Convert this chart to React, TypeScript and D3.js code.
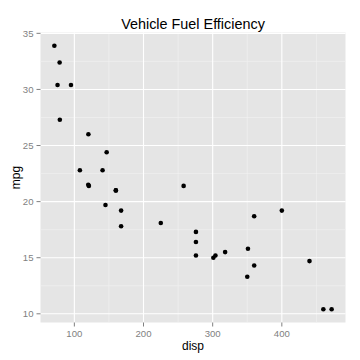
import React from "react";
import * as d3 from "d3";

const disp = [160, 160, 108, 258, 360, 225, 360, 146.7, 140.8, 167.6, 167.6, 275.8, 275.8, 275.8, 472, 460, 440, 78.7, 75.7, 71.1, 120.1, 318, 304, 350, 400, 79, 120.3, 95.1, 351, 145, 301, 121];
const mpg = [21.0, 21.0, 22.8, 21.4, 18.7, 18.1, 14.3, 24.4, 22.8, 19.2, 17.8, 16.4, 17.3, 15.2, 10.4, 10.4, 14.7, 32.4, 30.4, 33.9, 21.5, 15.5, 15.2, 13.3, 19.2, 27.3, 26.0, 30.4, 15.8, 19.7, 15.0, 21.4];
const xTicks = [100, 200, 300, 400];
const yTicks = [10, 15, 20, 25, 30, 35];
const xMinor = [50, 150, 250, 350, 450];
const yMinor = [12.5, 17.5, 22.5, 27.5, 32.5];

export default function App() {
  const W = 360, H = 360;
  const L = 40.5, R = 345.5, T = 32.5, B = 322.5;
  const [xmin, xmax] = d3.extent(disp) as [number, number];
  const [ymin, ymax] = d3.extent(mpg) as [number, number];
  const xe = (xmax - xmin) * 0.05, ye = (ymax - ymin) * 0.05;
  const x = d3.scaleLinear().domain([xmin - xe, xmax + xe]).range([L, R]);
  const y = d3.scaleLinear().domain([ymin - ye, ymax + ye]).range([B, T]);
  const tc = "#7f7f7f";
  return (
    <svg width={W} height={H} style={{ position: "absolute", left: 0, top: 0, fontFamily: "Liberation Sans, Arial, sans-serif" }}>
      <rect x={0} y={0} width={W} height={H} fill="#fff" />
      <rect x={L} y={T} width={R - L} height={B - T} fill="#e5e5e5" />
      {xMinor.filter(v => x(v) > L && x(v) < R).map(v => (
        <line key={"xm" + v} x1={x(v)} x2={x(v)} y1={T} y2={B} stroke="#f2f2f2" strokeWidth={0.6} />
      ))}
      {yMinor.map(v => (
        <line key={"ym" + v} x1={L} x2={R} y1={y(v)} y2={y(v)} stroke="#f2f2f2" strokeWidth={0.6} />
      ))}
      {xTicks.map(v => (
        <line key={"xg" + v} x1={x(v)} x2={x(v)} y1={T} y2={B} stroke="#fff" strokeWidth={1.1} />
      ))}
      {yTicks.map(v => (
        <line key={"yg" + v} x1={L} x2={R} y1={y(v)} y2={y(v)} stroke="#fff" strokeWidth={1.1} />
      ))}
      {disp.map((d, i) => (
        <circle key={i} cx={x(d)} cy={y(mpg[i])} r={2.3} fill="#000" />
      ))}
      {xTicks.map(v => (
        <g key={"xt" + v}>
          <line x1={x(v)} x2={x(v)} y1={B} y2={B + 4} stroke={tc} strokeWidth={1} />
          <text x={x(v)} y={B + 14} textAnchor="middle" fontSize={9.6} fill={tc}>{v}</text>
        </g>
      ))}
      {yTicks.map(v => (
        <g key={"yt" + v}>
          <line x1={L - 4} x2={L} y1={y(v)} y2={y(v)} stroke={tc} strokeWidth={1} />
          <text x={L - 7} y={y(v) + 3.4} textAnchor="end" fontSize={9.6} fill={tc}>{v}</text>
        </g>
      ))}
      <text x={(L + R) / 2} y={349.5} textAnchor="middle" fontSize={12} fill="#000">disp</text>
      <text transform={`translate(20,${(T + B) / 2}) rotate(-90)`} textAnchor="middle" fontSize={12} fill="#000">mpg</text>
      <text x={(L + R) / 2} y={28.5} textAnchor="middle" fontSize={14.4} fill="#000">Vehicle Fuel Efficiency</text>
    </svg>
  );
}
